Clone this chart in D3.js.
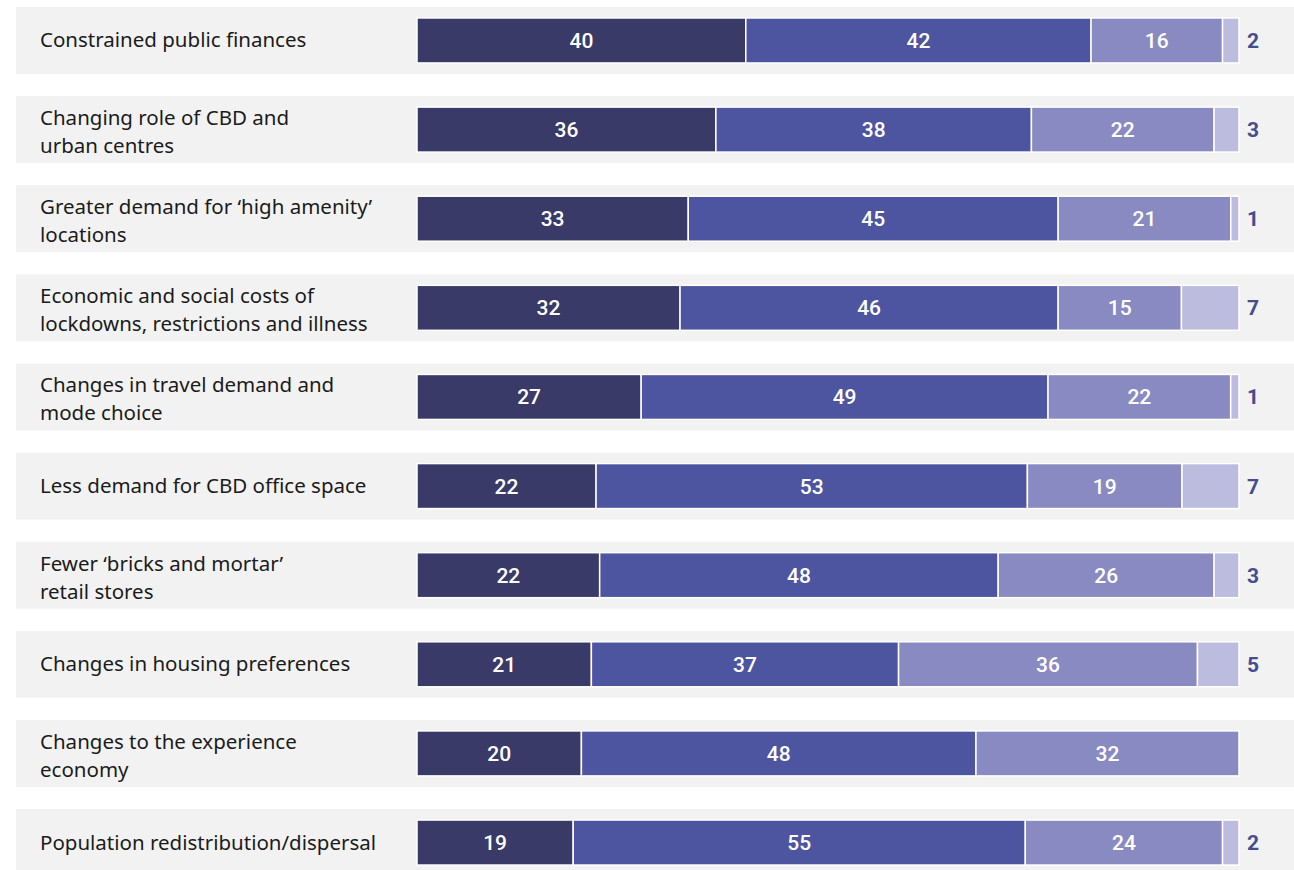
<!DOCTYPE html>
<html><head><meta charset="utf-8">
<script src="https://cdn.jsdelivr.net/npm/d3@7/dist/d3.min.js"></script>
<style>body{margin:0;background:#fff}svg{display:block}</style>
</head><body><svg id="c" width="1294" height="870"></svg>
<script>
const categories = [
  ["Constrained public finances"],
  ["Changing role of CBD and", "urban centres"],
  ["Greater demand for \u2018high amenity\u2019", "locations"],
  ["Economic and social costs of", "lockdowns, restrictions and illness"],
  ["Changes in travel demand and", "mode choice"],
  ["Less demand for CBD office space"],
  ["Fewer \u2018bricks and mortar\u2019", "retail stores"],
  ["Changes in housing preferences"],
  ["Changes to the experience", "economy"],
  ["Population redistribution/dispersal"]
];
const s1 = [40, 36, 33, 32, 27, 22, 22, 21, 20, 19];
const s2 = [42, 38, 45, 46, 49, 53, 48, 37, 48, 55];
const s3 = [16, 22, 21, 15, 22, 19, 26, 36, 32, 24];
const s4 = [2, 3, 1, 7, 1, 7, 3, 5, 0, 2];
const keys = ["s1","s2","s3","s4"];
const colors = ["#3a3a69","#4e55a0","#8a8ac2","#bcbcdf"];

const rows = categories.map((c,i)=>({id:i, label:c, s1:s1[i], s2:s2[i], s3:s3[i], s4:s4[i]}));
const svg = d3.select("#c");
const font = "Roboto, 'Noto Sans', sans-serif";
const labFont = "'Noto Sans', Roboto, sans-serif";

const y = d3.scaleBand().domain(rows.map(d=>d.id)).range([7, 876]).paddingInner(0.249).paddingOuter(0);
const x = d3.scaleLinear().domain([0,1]).range([417, 1239]);
const stack = d3.stack().keys(keys).offset(d3.stackOffsetExpand);
const series = stack(rows);

// bands
svg.append("g").selectAll("rect").data(rows).join("rect")
  .attr("x",16).attr("width",1294-16)
  .attr("y",d=>y(d.id)).attr("height",y.bandwidth())
  .attr("fill","#f2f2f2");

// category labels
const lab = svg.append("g").selectAll("text").data(rows).join("text")
  .attr("x",40).attr("font-family",labFont).attr("font-size",20.5).attr("fill","#1b1b1b")
  .attr("y",d=>y(d.id)+y.bandwidth()/2);
lab.each(function(d){
  const t = d3.select(this);
  const n = d.label.length;
  d.label.forEach((ln,j)=>{
    t.append("tspan").attr("x",40)
     .attr("dy", j===0 ? (n>1 ? (-14 + 9.5) : 7) : 28)
     .text(ln);
  });
});

const bh = 45;
const bo = (y.bandwidth()-bh)/2;
series.forEach((s,k)=>{
  const g = svg.append("g");
  g.selectAll("rect").data(s.filter(d=>d.data[keys[k]]>0)).join("rect")
    .attr("x",d=>x(d[0])).attr("width",d=>x(d[1])-x(d[0]))
    .attr("y",d=>y(d.data.id)+bo).attr("height",bh)
    .attr("fill",colors[k]).attr("stroke","#fff").attr("stroke-width",1.5);
  if(k<3){
    g.selectAll("text").data(s).join("text")
      .attr("x",d=>(x(d[0])+x(d[1]))/2).attr("y",d=>y(d.data.id)+y.bandwidth()/2+7.5)
      .attr("text-anchor","middle").attr("font-family",font).attr("font-size",21)
      .attr("font-weight",500).attr("fill","#fff")
      .text(d=>d.data[keys[k]]);
  } else {
    g.selectAll("text").data(s.filter(d=>d.data[keys[k]]>0)).join("text")
      .attr("x",d=>x(d[1])+8).attr("y",d=>y(d.data.id)+y.bandwidth()/2+7.5)
      .attr("font-family",font).attr("font-size",21).attr("font-weight",700)
      .attr("fill","#464d8f")
      .text(d=>d.data[keys[k]]);
  }
});
</script></body></html>
